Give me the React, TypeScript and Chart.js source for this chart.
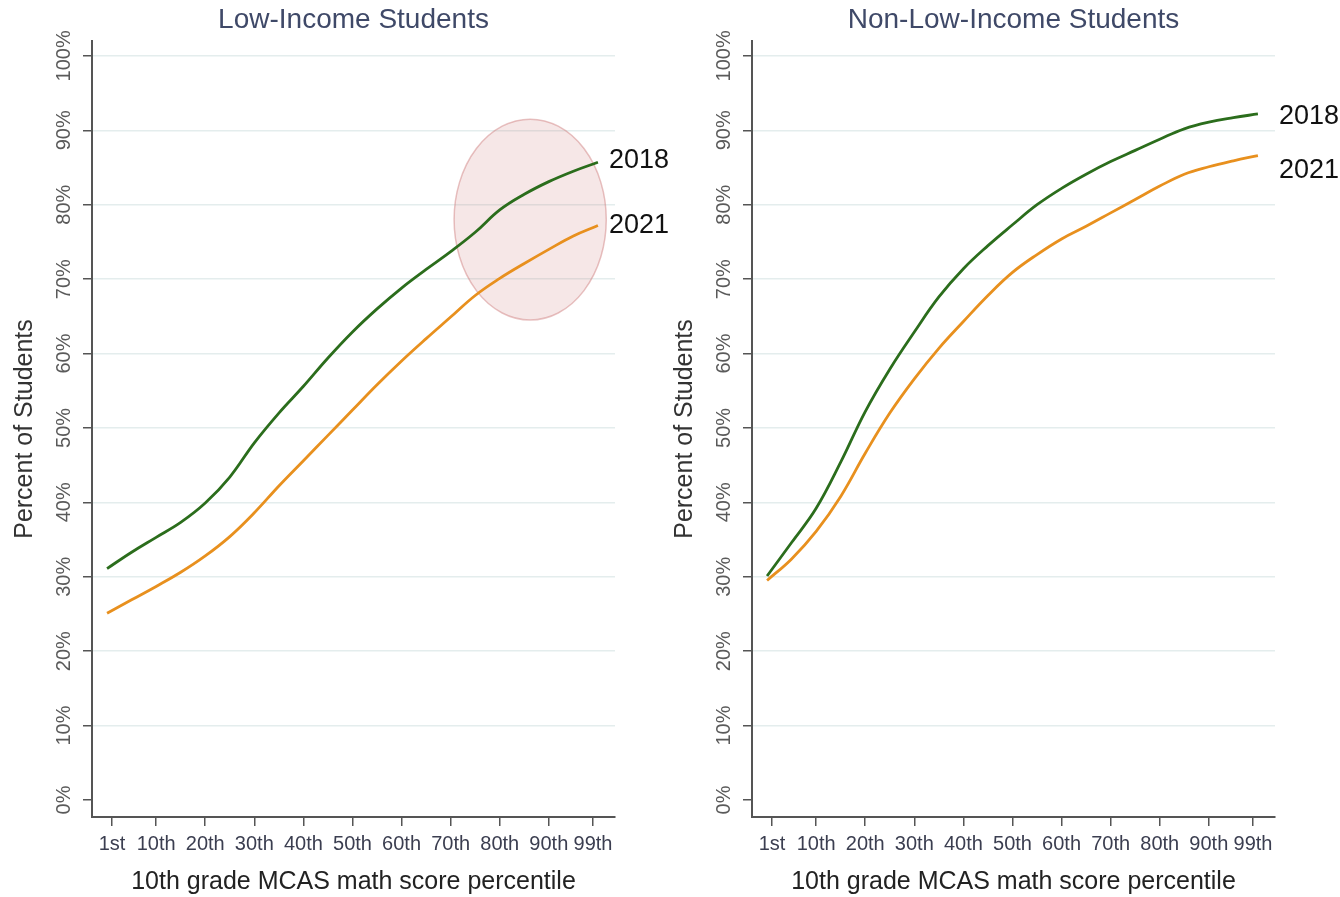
import React, { useEffect, useRef } from "react";
import { Chart, registerables } from "chart.js";

Chart.register(...registerables);

// ---------------- data ----------------
const PERCENTILES = [0, 5, 10, 15, 20, 25, 30, 35, 40, 45, 50, 55, 60, 65, 70, 75, 80, 85, 90, 95, 100];

const LOW_2018 = [31.1, 33.3, 35.3, 37.3, 39.9, 43.4, 48.0, 52.0, 55.6, 59.4, 62.9, 66.0, 68.8, 71.3, 73.7, 76.3, 79.3, 81.4, 83.1, 84.5, 85.7];
const LOW_2021 = [25.1, 26.9, 28.7, 30.6, 32.8, 35.4, 38.6, 42.2, 45.6, 49.0, 52.4, 55.8, 59.0, 62.0, 64.9, 67.8, 70.1, 72.1, 74.0, 75.8, 77.2];

const NONLOW_2018 = [30.1, 34.6, 39.2, 45.4, 52.2, 57.9, 62.9, 67.6, 71.4, 74.5, 77.3, 80.0, 82.2, 84.1, 85.8, 87.3, 88.8, 90.2, 91.1, 91.7, 92.2];
const NONLOW_2021 = [29.5, 32.4, 36.1, 40.8, 46.6, 52.0, 56.6, 60.7, 64.3, 67.8, 70.9, 73.3, 75.4, 77.1, 78.9, 80.7, 82.5, 84.1, 85.1, 85.9, 86.6];

const SERIES_NAMES = ["2018", "2021"];
const PANEL_TITLES = ["Low-Income Students", "Non-Low-Income Students"];

const X_TICKS = [1, 10, 20, 30, 40, 50, 60, 70, 80, 90, 99];
const X_TICK_LABELS = ["1st", "10th", "20th", "30th", "40th", "50th", "60th", "70th", "80th", "90th", "99th"];
const Y_TICKS = [0, 10, 20, 30, 40, 50, 60, 70, 80, 90, 100];
const Y_TICK_LABELS = ["0%", "10%", "20%", "30%", "40%", "50%", "60%", "70%", "80%", "90%", "100%"];

const X_TITLE = "10th grade MCAS math score percentile";
const Y_TITLE = "Percent of Students";

// highlighted region (data units) on the low-income panel
const HIGHLIGHT = { x: 86.2, y: 78.0, rx: 15.5, ry: 13.5 };

// ---------------- styling ----------------
const FONT = "'Liberation Sans', Arial, Helvetica, sans-serif";
const GREEN = "#2b6d1c";
const ORANGE = "#e8901e";
const AXIS = "#555555";
const GRID = "#e4eded";

const X_MIN = -3.07;
const X_MAX = 103.48;
const Y_MIN = -2.285;
const Y_MAX = 102.0;

const decorPlugin = {
  id: "decor",
  beforeDatasetsDraw(chart: any, _args: any, opts: any) {
    const h = opts.highlight;
    if (!h) return;
    const { ctx, scales } = chart;
    const x = scales.x;
    const y = scales.y;
    const cx = x.getPixelForValue(h.x);
    const cy = y.getPixelForValue(h.y);
    const rx = Math.abs(x.getPixelForValue(h.x + h.rx) - cx);
    const ry = Math.abs(y.getPixelForValue(h.y + h.ry) - cy);
    ctx.save();
    ctx.beginPath();
    ctx.ellipse(cx, cy, rx, ry, 0, 0, Math.PI * 2);
    ctx.fillStyle = "rgba(200, 105, 105, 0.16)";
    ctx.fill();
    ctx.strokeStyle = "rgba(205, 120, 120, 0.45)";
    ctx.lineWidth = 1.5;
    ctx.stroke();
    ctx.restore();
  },
  afterDraw(chart: any, _args: any, opts: any) {
    const { ctx, chartArea, scales } = chart;
    const y = scales.y;
    ctx.save();
    // panel title
    ctx.font = `28px ${FONT}`;
    ctx.fillStyle = "#3f4968";
    ctx.textAlign = "center";
    ctx.textBaseline = "middle";
    ctx.fillText(opts.title, (chartArea.left + chartArea.right) / 2, 20);

    // rotated y tick labels
    ctx.font = `20px ${FONT}`;
    ctx.fillStyle = "#5a5a5a";
    Y_TICKS.forEach((v, i) => {
      const py = y.getPixelForValue(v);
      ctx.save();
      ctx.translate(chartArea.left - 28, py);
      ctx.rotate(-Math.PI / 2);
      ctx.textAlign = "center";
      ctx.textBaseline = "middle";
      ctx.fillText(Y_TICK_LABELS[i], 0, 0);
      ctx.restore();
    });

    // series end labels
    ctx.font = `27px ${FONT}`;
    ctx.fillStyle = "#111111";
    ctx.textAlign = "left";
    ctx.textBaseline = "middle";
    chart.data.datasets.forEach((ds: any, i: number) => {
      const meta = chart.getDatasetMeta(i);
      const last = meta.data[meta.data.length - 1];
      const off = opts.labelOffsets[i];
      ctx.fillText(ds.label, last.x + off.dx, last.y + off.dy);
    });
    ctx.restore();
  },
};

type PanelProps = {
  left: number;
  width: number;
  title: string;
  s2018: number[];
  s2021: number[];
  highlight: any;
  labelOffsets: { dx: number; dy: number }[];
};

function Panel({ left, width, title, s2018, s2021, highlight, labelOffsets }: PanelProps) {
  const ref = useRef<HTMLCanvasElement>(null);

  useEffect(() => {
    if (!ref.current) return;
    const toPoints = (arr: number[]) => PERCENTILES.map((p, i) => ({ x: p, y: arr[i] }));
    const lineStyle = {
      borderWidth: 2.8,
      pointRadius: 0,
      fill: false,
      tension: 0.4,
      cubicInterpolationMode: "default",
    };
    const chart = new Chart(ref.current, {
      type: "line",
      data: {
        datasets: [
          { label: SERIES_NAMES[0], data: toPoints(s2018), borderColor: GREEN, ...lineStyle },
          { label: SERIES_NAMES[1], data: toPoints(s2021), borderColor: ORANGE, ...lineStyle },
        ],
      },
      plugins: [decorPlugin as any],
      options: {
        responsive: false,
        animation: false,
        devicePixelRatio: 1,
        layout: { padding: { left: 0, top: 41, right: width - 615, bottom: 0 } },
        plugins: {
          legend: { display: false },
          tooltip: { enabled: false },
          title: { display: false },
          decor: { title, highlight, labelOffsets },
        } as any,
        scales: {
          x: {
            type: "linear",
            min: X_MIN,
            max: X_MAX,
            afterBuildTicks: (s: any) => {
              s.ticks = X_TICKS.map((v) => ({ value: v }));
            },
            afterFit: (s: any) => {
              s.height = 80;
            },
            ticks: {
              autoSkip: false,
              maxRotation: 0,
              minRotation: 0,
              padding: 6,
              color: "#3b3e50",
              font: { size: 20, family: FONT },
              callback: (_v: any, i: number) => X_TICK_LABELS[i],
            },
            grid: {
              drawOnChartArea: false,
              drawTicks: true,
              tickLength: 9,
              tickColor: AXIS,
              lineWidth: 1.5,
            },
            border: { display: true, color: AXIS, width: 2 },
            title: {
              display: true,
              text: X_TITLE,
              color: "#222222",
              font: { size: 25, family: FONT },
              padding: { top: 0, bottom: 0 },
            },
          },
          y: {
            type: "linear",
            min: Y_MIN,
            max: Y_MAX,
            afterBuildTicks: (s: any) => {
              s.ticks = Y_TICKS.map((v) => ({ value: v }));
            },
            afterFit: (s: any) => {
              s.width = 92;
            },
            ticks: { display: false },
            grid: {
              color: (c: any) => (c.tick && c.tick.value === 0 ? "rgba(0,0,0,0)" : GRID),
              lineWidth: 1.5,
              drawTicks: true,
              tickLength: 9,
              tickColor: AXIS,
            },
            border: { display: true, color: AXIS, width: 2 },
            title: {
              display: true,
              text: Y_TITLE,
              color: "#333333",
              font: { size: 25, family: FONT },
              padding: { top: 10, bottom: 0 },
            },
          },
        },
      } as any,
    });
    return () => chart.destroy();
  }, []);

  return (
    <canvas
      ref={ref}
      width={width}
      height={897}
      style={{ position: "absolute", left, top: 0, width, height: 897 }}
    />
  );
}

export default function App() {
  return (
    <div
      style={{
        position: "absolute",
        left: 0,
        top: 0,
        width: 1340,
        height: 897,
        background: "#ffffff",
        overflow: "hidden",
      }}
    >
      <Panel
        left={0}
        width={700}
        title={PANEL_TITLES[0]}
        s2018={LOW_2018}
        s2021={LOW_2021}
        highlight={HIGHLIGHT}
        labelOffsets={[
          { dx: 11, dy: -2 },
          { dx: 11, dy: 0 },
        ]}
      />
      <Panel
        left={660}
        width={680}
        title={PANEL_TITLES[1]}
        s2018={NONLOW_2018}
        s2021={NONLOW_2021}
        highlight={null}
        labelOffsets={[
          { dx: 21, dy: 3 },
          { dx: 21, dy: 15 },
        ]}
      />
    </div>
  );
}
